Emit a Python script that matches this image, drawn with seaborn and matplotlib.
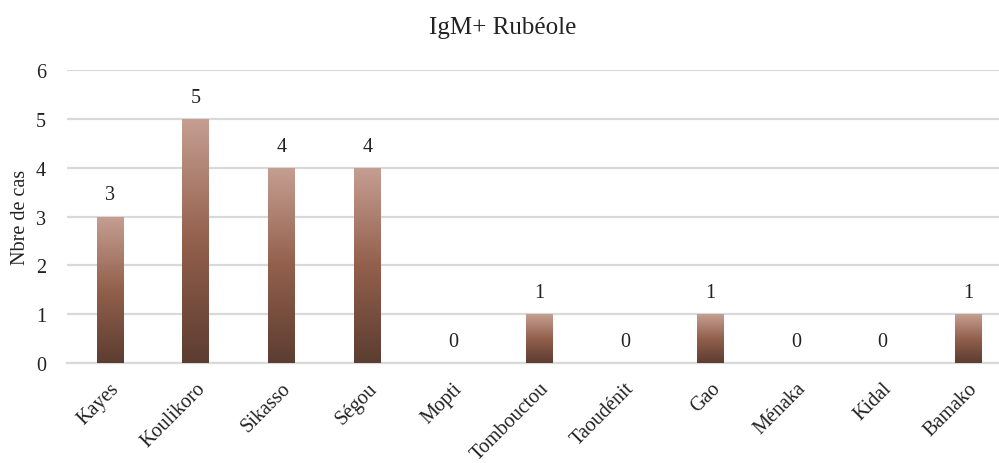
import numpy as np
import pandas as pd
import matplotlib
matplotlib.use("Agg")
import matplotlib.pyplot as plt
from matplotlib.colors import LinearSegmentedColormap
import seaborn as sns

# === Data ===
regions = ["Kayes", "Koulikoro", "Sikasso", "Ségou", "Mopti", "Tombouctou",
           "Taoudénit", "Gao", "Ménaka", "Kidal", "Bamako"]
cases = [3, 5, 4, 4, 0, 1, 0, 1, 0, 0, 1]
yticks = [0, 1, 2, 3, 4, 5, 6]

df = pd.DataFrame({"region": regions, "cas": cases})

sns.set_style("white")
plt.rcParams["font.family"] = ["Liberation Serif", "DejaVu Serif"]

fig = plt.figure(figsize=(9.99, 4.64), dpi=100)
ax = fig.add_axes([0.067, 0.215, 0.945, 0.632])

sns.barplot(data=df, x="region", y="cas", ax=ax, width=0.31,
            color="#8a5a48", edgecolor="none", zorder=2)

# gradient fill (light top -> dark bottom)
grad_cmap = LinearSegmentedColormap.from_list(
    "brown", ["#5c3d31", "#93604c", "#c59f92"])
grad = np.linspace(0, 1, 256).reshape(-1, 1)
for p in ax.patches:
    x0, y0 = p.get_x(), p.get_y()
    w, h = p.get_width(), p.get_height()
    if h <= 0:
        continue
    im = ax.imshow(grad, extent=[x0, x0 + w, y0, y0 + h], origin="lower",
                   cmap=grad_cmap, aspect="auto", zorder=3)
    im.set_clip_path(p)

ax.set_xlim(-0.5, len(regions) - 0.5)
ax.set_ylim(0, 6)
ax.set_yticks(yticks)

txt = "#222222"

# value labels
for i, v in enumerate(cases):
    ax.text(i, v + 0.25, str(v), ha="center", va="bottom", fontsize=14.5,
            color=txt)

ax.yaxis.grid(True, color="#d9d9d9", linewidth=1.6, zorder=0)
ax.set_axisbelow(True)
for s in ["top", "right", "left"]:
    ax.spines[s].set_visible(False)
ax.spines["bottom"].set_color("#d9d9d9")
ax.spines["bottom"].set_linewidth(1.6)

ax.tick_params(axis="both", length=0, labelsize=14.5, colors=txt)
ax.tick_params(axis="y", pad=15)
ax.tick_params(axis="x", pad=11)
plt.setp(ax.get_xticklabels(), rotation=45, ha="right", rotation_mode="anchor")

ax.set_xlabel("")
ax.set_ylabel("Nbre de cas", fontsize=14.5, color=txt, labelpad=4)

fig.text(0.503, 0.94, "IgM+ Rubéole", ha="center", va="center",
         fontsize=18, color=txt)

fig.savefig("out.png", dpi=100)
